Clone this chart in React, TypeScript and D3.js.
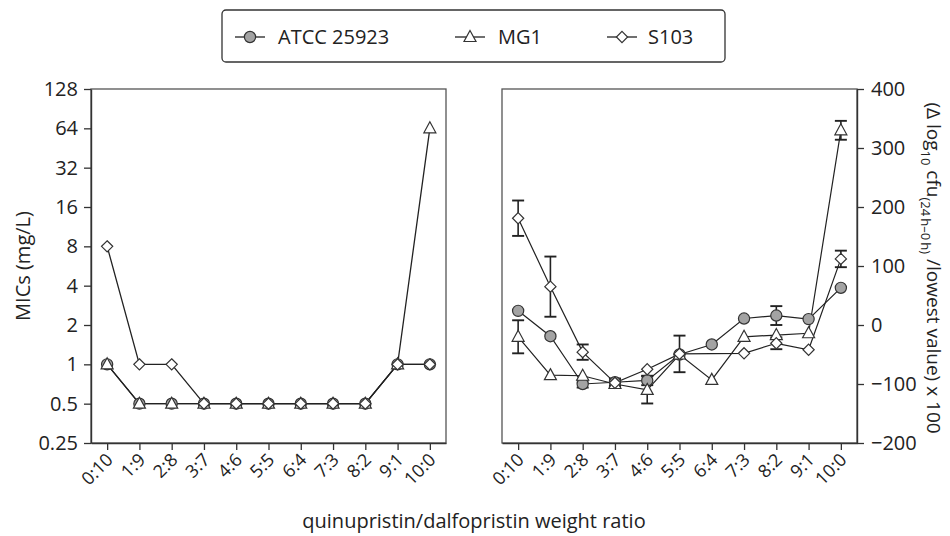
import React, { useEffect, useRef } from "react";
import * as d3 from "d3";

const ratios = ["0:10", "1:9", "2:8", "3:7", "4:6", "5:5", "6:4", "7:3", "8:2", "9:1", "10:0"];
const micTicks = [0.25, 0.5, 1, 2, 4, 8, 16, 32, 64, 128];
const micATCC = [1, 0.5, 0.5, 0.5, 0.5, 0.5, 0.5, 0.5, 0.5, 1, 1];
const micMG1 = [1, 0.5, 0.5, 0.5, 0.5, 0.5, 0.5, 0.5, 0.5, 1, 64];
const micS103 = [8, 1, 1, 0.5, 0.5, 0.5, 0.5, 0.5, 0.5, 1, 1];

const killTicks = [-200, -100, 0, 100, 200, 300, 400];
const killATCC = [24, -19, -100, -97, -94, -50, -33, 11, 16, 10, 63];
const killATCCErr = [0, 0, 6, 6, 8, 0, 0, 0, 16, 0, 0];
const killMG1 = [-20, -85, -86, -100, -110, -50, -93, -20, -17, -14, 330];
const killMG1Err = [28, 0, 0, 6, 23, 0, 0, 0, 0, 0, 16];
const killS103: (number | null)[] = [181, 65, -46, -98, -75, -49, null, -48, -31, -42, 112];
const killS103Err = [30, 51, 13, 7, 0, 31, 0, 0, 10, 0, 14];

const seriesNames = ["ATCC 25923", "MG1", "S103"];
const seriesShapes = ["circle", "triangle", "diamond"];

const FONT = "'Open Sans', 'DejaVu Sans', sans-serif";
const INK = "#222";

function drawMarker(g: any, shape: string, x: number, y: number) {
  if (shape === "circle") {
    g.append("circle").attr("cx", x).attr("cy", y).attr("r", 5.6)
      .attr("fill", "#a3a3a3").attr("stroke", "#333").attr("stroke-width", 1.2);
  } else if (shape === "triangle") {
    g.append("path")
      .attr("d", `M${x},${y - 6.5}L${x + 6},${y + 4.5}L${x - 6},${y + 4.5}Z`)
      .attr("fill", "#fff").attr("stroke", "#333").attr("stroke-width", 1.2);
  } else {
    g.append("path")
      .attr("d", `M${x},${y - 5.6}L${x + 5.6},${y}L${x},${y + 5.6}L${x - 5.6},${y}Z`)
      .attr("fill", "#fff").attr("stroke", "#333").attr("stroke-width", 1.2);
  }
}

export default function App() {
  const ref = useRef<SVGSVGElement>(null);

  useEffect(() => {
    const svg = d3.select(ref.current);
    svg.selectAll("*").remove();
    svg.style("font-family", FONT);

    const top = 89, bottom = 443;
    const lx = d3.scalePoint<string>().domain(ratios).range([91, 446]).padding(0.5);
    const rx = d3.scalePoint<string>().domain(ratios).range([502, 857]).padding(0.5);
    const ly = d3.scaleLog().base(2).domain([0.25, 128]).range([bottom, top]);
    const ry = d3.scaleLinear().domain([-200, 400]).range([bottom, top]);

    // frames
    svg.append("rect").attr("x", 91).attr("y", top).attr("width", 355).attr("height", bottom - top)
      .attr("fill", "none").attr("stroke", "#555").attr("stroke-width", 1.3);
    svg.append("rect").attr("x", 502).attr("y", top).attr("width", 355).attr("height", bottom - top)
      .attr("fill", "none").attr("stroke", "#555").attr("stroke-width", 1.3);

    const styleAxis = (g: any) => {
      g.attr("font-family", FONT).attr("font-size", 20);
      g.selectAll("path.domain").attr("stroke", "#333").attr("stroke-width", 1.4);
      g.selectAll(".tick line").attr("stroke", "#333").attr("stroke-width", 1.3);
      g.selectAll(".tick text").attr("fill", INK);
    };

    // left y axis
    const gly = svg.append("g").attr("transform", "translate(91,0)")
      .call(d3.axisLeft(ly).tickValues(micTicks).tickFormat((d: any) => String(d)).tickSize(7).tickSizeOuter(0).tickPadding(6));
    styleAxis(gly);

    // right y axis
    const gry = svg.append("g").attr("transform", "translate(857,0)")
      .call(d3.axisRight(ry).tickValues(killTicks).tickFormat((d: any) => (d < 0 ? "\u2212" + Math.abs(d) : String(d))).tickSize(7).tickSizeOuter(0).tickPadding(7));
    styleAxis(gry);

    // bottom axes
    [lx, rx].forEach((xs) => {
      const gx = svg.append("g").attr("transform", `translate(0,${bottom})`)
        .call(d3.axisBottom(xs).tickSize(7).tickSizeOuter(0).tickFormat(() => ""));
      styleAxis(gx);
      gx.selectAll(".tick text").remove();
      ratios.forEach((r) => {
        svg.append("text")
          .attr("transform", `translate(${(xs(r) as number) + 7},${bottom + 18}) rotate(-45)`)
          .attr("text-anchor", "end").attr("font-size", 18).attr("fill", INK).text(r);
      });
    });

    // left panel
    const micSeries = [micATCC, micMG1, micS103];
    const lineL = d3.line<[number, number]>().x((d) => d[0]).y((d) => d[1]);
    micSeries.forEach((vals) => {
      const pts: [number, number][] = vals.map((v, i) => [lx(ratios[i]) as number, ly(v)]);
      svg.append("path").attr("d", lineL(pts)).attr("fill", "none").attr("stroke", INK).attr("stroke-width", 1.3);
    });
    micSeries.forEach((vals, si) => {
      const g = svg.append("g");
      vals.forEach((v, i) => drawMarker(g, seriesShapes[si], lx(ratios[i]) as number, ly(v)));
    });

    // right panel
    const killSeries: (number | null)[][] = [killATCC, killMG1, killS103];
    const killErr = [killATCCErr, killMG1Err, killS103Err];
    killSeries.forEach((vals) => {
      const pts: [number, number][] = [];
      vals.forEach((v, i) => { if (v !== null) pts.push([rx(ratios[i]) as number, ry(v)]); });
      svg.append("path").attr("d", lineL(pts)).attr("fill", "none").attr("stroke", INK).attr("stroke-width", 1.2);
    });
    killSeries.forEach((vals, si) => {
      const g = svg.append("g");
      vals.forEach((v, i) => {
        if (v === null) return;
        const e = killErr[si][i];
        if (e > 0) {
          const x = rx(ratios[i]) as number;
          const y1 = ry(v + e), y2 = ry(v - e);
          g.append("line").attr("x1", x).attr("x2", x).attr("y1", y1).attr("y2", y2).attr("stroke", INK).attr("stroke-width", 1.6);
          [y1, y2].forEach((yy) => g.append("line").attr("x1", x - 6).attr("x2", x + 6).attr("y1", yy).attr("y2", yy).attr("stroke", INK).attr("stroke-width", 1.9));
        }
      });
    });
    killSeries.forEach((vals, si) => {
      const g = svg.append("g");
      vals.forEach((v, i) => { if (v !== null) drawMarker(g, seriesShapes[si], rx(ratios[i]) as number, ry(v)); });
    });

    // axis titles
    svg.append("text").attr("transform", `translate(30,266) rotate(-90)`).attr("text-anchor", "middle")
      .attr("font-size", 20).attr("fill", INK).text("MICs (mg/L)");
    svg.append("text").attr("x", 474).attr("y", 528).attr("text-anchor", "middle")
      .attr("font-size", 20).attr("fill", INK).text("quinupristin/dalfopristin weight ratio");

    const rt = svg.append("text").attr("transform", `translate(927,268) rotate(90)`).attr("text-anchor", "middle")
      .attr("font-size", 19).attr("fill", INK);
    rt.append("tspan").text("(\u0394 log");
    rt.append("tspan").attr("font-size", 13).attr("dy", 6).text("10");
    rt.append("tspan").attr("dy", -6).text(" cfu");
    rt.append("tspan").attr("font-size", 13).attr("dy", 6).text("(24\u2009h\u20130\u2009h)");
    rt.append("tspan").attr("dy", -6).text(" /lowest value) x 100");

    // legend
    svg.append("rect").attr("x", 222).attr("y", 10).attr("width", 503).attr("height", 52).attr("rx", 4)
      .attr("fill", "#fff").attr("stroke", "#333").attr("stroke-width", 1.3);
    const legX = [250, 470, 622];
    const legTX = [278, 498, 648];
    seriesNames.forEach((name, i) => {
      svg.append("line").attr("x1", legX[i] - 15).attr("x2", legX[i] + 15).attr("y1", 37).attr("y2", 37)
        .attr("stroke", INK).attr("stroke-width", 1.3);
      drawMarker(svg, seriesShapes[i], legX[i], 37);
      svg.append("text").attr("x", legTX[i]).attr("y", 44).attr("font-size", 20).attr("fill", INK).text(name);
    });
  }, []);

  return (
    <svg ref={ref} width={950} height={536}
      style={{ position: "absolute", left: 0, top: 0, background: "#fff" }} />
  );
}
